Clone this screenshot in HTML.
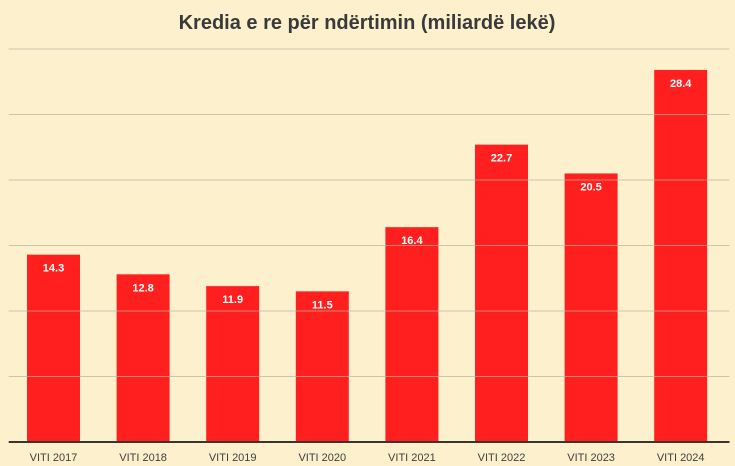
<!DOCTYPE html>
<html><head><meta charset="utf-8"><style>
html,body{margin:0;padding:0;background:#fdf1cd;}
svg{display:block;font-family:"Liberation Sans",sans-serif;}
</style></head><body>
<svg id="chart" width="735" height="466" viewBox="0 0 735 466">
<rect width="735" height="466" fill="#fdf1cd"/>
<text x="367" y="29" text-anchor="middle" font-size="20" font-weight="bold" fill="#3a3a3a">Kredia e re për ndërtimin (miliardë lekë)</text>
<g id="bars"></g><g id="grid"></g><g id="labels"></g>
</svg>
<script>
const categories=["VITI 2017","VITI 2018","VITI 2019","VITI 2020","VITI 2021","VITI 2022","VITI 2023","VITI 2024"];
const values=[14.3,12.8,11.9,11.5,16.4,22.7,20.5,28.4];
const gridTicks=[5,10,15,20,25,30];
const NS="http://www.w3.org/2000/svg";
const plotLeft=8.7,plotRight=725.5,plotBase=442,plotTop=49,maxV=30;
const band=(plotRight-plotLeft)/categories.length,bw=53;
const yS=v=>plotBase-(v/maxV)*(plotBase-plotTop);
const xS=i=>plotLeft+band*i+band/2;
function mk(t,a,p){const e=document.createElementNS(NS,t);for(const k in a)e.setAttribute(k,a[k]);p.appendChild(e);return e;}
const gb=document.getElementById('bars'),gg=document.getElementById('grid'),gl=document.getElementById('labels');
values.forEach((v,i)=>{
 const r=mk('rect',{x:xS(i)-bw/2,y:yS(v),width:bw,height:plotBase-yS(v),fill:'#ff1f1f'},gb);
 
 
 const t=mk('text',{x:xS(i),y:yS(v)+17,'text-anchor':'middle','font-size':'11','font-weight':'bold',fill:'#fff'},gl);
 t.textContent=v.toFixed(1);
 
 
 const c=mk('text',{x:xS(i),y:461,'text-anchor':'middle','font-size':'11',fill:'#404040'},gl);
 c.textContent=categories[i];
 
 
});
gridTicks.forEach(g=>{
 const l=mk('line',{x1:plotLeft,x2:plotRight+4,y1:yS(g),y2:yS(g),stroke:'#b8b09a','stroke-width':'1','stroke-opacity':'0.7'},gg);
 
 
});
const ax=mk('line',{x1:plotLeft,x2:plotRight+4,y1:plotBase,y2:plotBase,stroke:'#3a3530','stroke-width':'2'},gg);


</script>
</body></html>
